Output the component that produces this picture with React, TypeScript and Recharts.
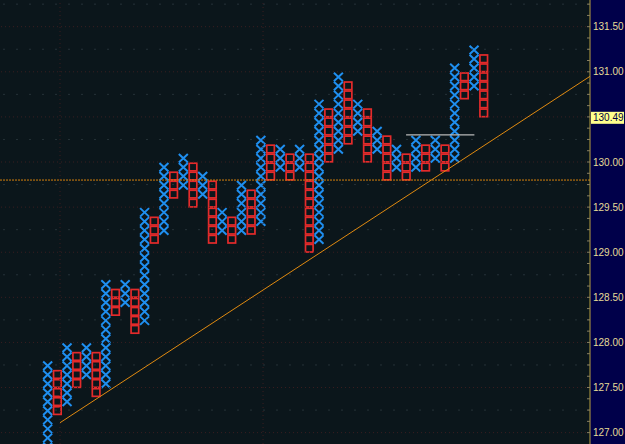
import React from 'react';
import { ComposedChart, Bar, XAxis, YAxis, ReferenceLine } from 'recharts';

const BOX = 0.1;

const columnType = [
  'X', 'O', 'X', 'O', 'X', 'O', 'X', 'O', 'X', 'O',
  'X', 'O', 'X', 'O', 'X', 'O', 'X', 'O', 'X', 'O',
  'X', 'O', 'X', 'O', 'X', 'O', 'X', 'O', 'X', 'O',
  'X', 'O', 'X', 'O', 'X', 'O', 'X', 'O', 'X', 'O',
  'X', 'O', 'X', 'O', 'X', 'O',
];

const columnLow = [
  126.6, 127.2, 127.3, 127.5, 127.6, 127.4, 127.5, 128.3, 128.4, 128.1,
  128.2, 129.1, 129.2, 129.6, 129.7, 129.5, 129.6, 129.1, 129.2, 129.1,
  129.2, 129.2, 129.3, 129.8, 129.9, 129.8, 129.9, 129.0, 129.1, 130.0,
  130.1, 130.2, 130.3, 130.0, 130.1, 129.8, 129.9, 129.8, 129.9, 129.9,
  130.0, 129.9, 130.0, 130.7, 130.8, 130.5,
];

const columnHigh = [
  127.8, 127.7, 128.0, 127.9, 128.0, 127.9, 128.7, 128.6, 128.7, 128.6,
  129.5, 129.4, 130.0, 129.9, 130.1, 130.0, 129.9, 129.8, 129.5, 129.4,
  129.8, 129.7, 130.3, 130.2, 130.2, 130.1, 130.2, 130.1, 130.7, 130.6,
  131.0, 130.9, 130.7, 130.6, 130.4, 130.3, 130.2, 130.1, 130.3, 130.2,
  130.3, 130.2, 131.1, 131.0, 131.3, 131.2,
];

const lastPrice = 130.49;
const supportLevel = 129.8;
const resistanceLevel = 130.3;
const resistanceSpan = [36.95, 44.0];
const trendLine = [
  { x: 1.24, y: 127.11 },
  { x: 55.93, y: 130.95 },
];
const verticalGrid = [1.24, 22.19];
const gridLevels = [
  127.0, 127.25, 127.5, 127.75, 128.0, 128.25, 128.5, 128.75, 129.0, 129.25,
  129.5, 129.75, 130.0, 130.25, 130.5, 130.75, 131.0, 131.25, 131.5, 131.75,
];
const axisTicks = [
  127.0, 127.125, 127.25, 127.375, 127.5, 127.625, 127.75, 127.875,
  128.0, 128.125, 128.25, 128.375, 128.5, 128.625, 128.75, 128.875,
  129.0, 129.125, 129.25, 129.375, 129.5, 129.625, 129.75, 129.875,
  130.0, 130.125, 130.25, 130.375, 130.5, 130.625, 130.75, 130.875,
  131.0, 131.125, 131.25, 131.375, 131.5, 131.625, 131.75,
];
const tickLabels = ['127.00', '127.50', '128.00', '128.50', '129.00', '129.50', '130.00', '130.50', '131.00', '131.50'];

const xDomain = [-4.954, 55.93];
const yDomain = [126.874, 131.796];

const data = columnType.map((t, i) => ({
  i,
  type: t,
  range: [columnLow[i], columnHigh[i]],
}));

const X_COLOR = '#1f8ff0';
const O_COLOR = '#e42b2b';

const PnfShape = (props: any) => {
  const { x, y, width, height, payload } = props;
  if (x == null || y == null || !payload) return null;
  const [lo, hi] = payload.range;
  const n = Math.round((hi - lo) / BOX);
  const top0 = height < 0 ? y + height : y;
  const H = Math.abs(height);
  const h = H / n;
  const cx = x + width / 2;
  const els: any[] = [];
  for (let k = 0; k < n; k++) {
    const top = top0 + k * h;
    if (payload.type === 'X') {
      const t = top + 1;
      const b = top + h + 0.5;
      els.push(
        <path
          key={k}
          d={`M${cx - 4.5},${t}L${cx + 4.5},${b}M${cx + 4.5},${t}L${cx - 4.5},${b}`}
          stroke={X_COLOR}
          strokeWidth={2}
          fill="none"
        />
      );
    } else {
      els.push(
        <rect
          key={k}
          x={cx - 3.8}
          y={top + 1.2}
          width={7.6}
          height={h - 1.4}
          stroke={O_COLOR}
          strokeWidth={1.7}
          fill="none"
        />
      );
    }
  }
  return <g>{els}</g>;
};

const AxisTick = (props: any) => {
  const { x, y, payload } = props;
  const v = payload.value;
  if (v === lastPrice) {
    return (
      <g>
        <rect x={x + 1} y={y - 6} width={33} height={12} fill="#ffff8c" />
        <text x={x + 3} y={y + 3.5} fill="#000040" fontSize={10} fontFamily="Liberation Sans">
          {lastPrice.toFixed(2)}
        </text>
      </g>
    );
  }
  const label = tickLabels.find((l) => Math.abs(parseFloat(l) - v) < 1e-6);
  return (
    <g>
      <line x1={x - 3} x2={x} y1={y} y2={y} stroke="#8a8060" strokeWidth={1} />
      {label && (
        <text x={x + 3} y={y + 3.5} fill="#e6dc96" fontSize={10} fontFamily="Liberation Sans">
          {label}
        </text>
      )}
    </g>
  );
};

export default function App() {
  return (
    <div style={{ position: 'absolute', left: 0, top: 0, width: 625, height: 444, background: '#0b161b', overflow: 'hidden' }}>
      <div style={{ position: 'absolute', left: 590, top: 0, width: 35, height: 444, background: '#00004a' }} />
      <div style={{ position: 'absolute', left: 0, top: 0 }}>
        <ComposedChart width={625} height={444} data={data} margin={{ top: 0, right: 0, bottom: 0, left: 0 }}>
          <XAxis type="number" dataKey="i" domain={xDomain} allowDataOverflow hide />
          <YAxis
            type="number"
            orientation="right"
            width={35}
            domain={yDomain}
            allowDataOverflow
            ticks={[...axisTicks, lastPrice]}
            interval={0}
            tick={<AxisTick />}
            tickLine={false}
            tickSize={0}
            tickMargin={0}
            axisLine={{ stroke: '#b8a040' }}
          />
          {gridLevels.map((g) => (
            <ReferenceLine
              key={'g' + g}
              y={g}
              stroke={Math.abs(g * 2 - Math.round(g * 2)) < 1e-6 ? '#3a1e20' : '#263238'}
              strokeDasharray={Math.abs(g * 2 - Math.round(g * 2)) < 1e-6 ? '1 3' : '2 11'}
              ifOverflow="hidden"
            />
          ))}
          {verticalGrid.map((v) => (
            <ReferenceLine key={'v' + v} x={v} stroke="#3a1e20" strokeDasharray="1 3" ifOverflow="hidden" />
          ))}
          <ReferenceLine y={supportLevel} stroke="#d8820c" strokeDasharray="2 1" ifOverflow="hidden" />
          <Bar dataKey="range" barSize={9} shape={<PnfShape />} isAnimationActive={false} />
          <ReferenceLine
            segment={[
              { x: resistanceSpan[0], y: resistanceLevel },
              { x: resistanceSpan[1], y: resistanceLevel },
            ]}
            stroke="#b8b8b8"
            strokeWidth={1.2}
            ifOverflow="hidden"
          />
          <ReferenceLine segment={trendLine} stroke="#e08a10" strokeWidth={1} ifOverflow="hidden" />
        </ComposedChart>
      </div>
    </div>
  );
}
